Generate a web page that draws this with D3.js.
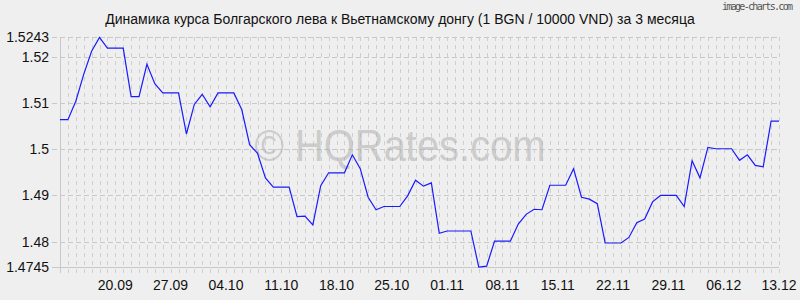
<!DOCTYPE html>
<html>
<head>
<meta charset="utf-8">
<script src="https://cdn.jsdelivr.net/npm/d3@7"></script>
<style>
  body { margin: 0; background: #efefef; }
  svg { display: block; font-family: "Liberation Sans", Arial, sans-serif; }
</style>
</head>
<body>
<div id="chart"></div>
<script>
// Daily rate, 1 BGN / 10000 VND, from 13.09 to 13.12
const startDay = "2025-09-13";
const rates = [
  1.5064, 1.5064, 1.5104, 1.5162, 1.5212, 1.5242, 1.5219, 1.5219, 1.5219, 1.5114,
  1.5114, 1.5184, 1.5142, 1.5122, 1.5122, 1.5122, 1.5033, 1.5097, 1.5119, 1.5092,
  1.5122, 1.5122, 1.5122, 1.5086, 1.5010, 1.4991, 1.4938, 1.4918, 1.4918, 1.4918,
  1.4854, 1.4855, 1.4836, 1.4921, 1.4949, 1.4949, 1.4949, 1.4988, 1.4958, 1.4896,
  1.4869, 1.4876, 1.4876, 1.4876, 1.4899, 1.4933, 1.4920, 1.4927, 1.4818, 1.4823,
  1.4823, 1.4823, 1.4823, 1.4745, 1.4747, 1.4801, 1.4801, 1.4801, 1.4838, 1.4859,
  1.4870, 1.4869, 1.4922, 1.4922, 1.4922, 1.4958, 1.4896, 1.4892, 1.4882, 1.4797,
  1.4797, 1.4797, 1.4809, 1.4841, 1.4849, 1.4886, 1.4900, 1.4900, 1.4900, 1.4876,
  1.4975, 1.4938, 1.5004, 1.5001, 1.5001, 1.5001, 1.4976, 1.4988, 1.4965, 1.4962,
  1.5061, 1.5061
];
const xTickLabels = ["20.09", "27.09", "04.10", "11.10", "18.10", "25.10", "01.11",
  "08.11", "15.11", "22.11", "29.11", "06.12", "13.12"];
const yTicks = [1.4745, 1.48, 1.49, 1.5, 1.51, 1.52, 1.5243];

const title = "Динамика курса Болгарского лева к Вьетнамскому донгу (1 BGN / 10000 VND) за 3 месяца";

const width = 800, height = 300;
const margin = { top: 37, right: 21, bottom: 33, left: 60 };

const parseDay = d3.timeParse("%Y-%m-%d");
const start = parseDay(startDay);
const data = rates.map((v, i) => ({ date: d3.timeDay.offset(start, i), value: v }));

// tick labels are dd.mm, year follows the data
const tickDates = xTickLabels.map(s => {
  const [dd, mm] = s.split(".");
  return new Date(start.getFullYear(), +mm - 1, +dd);
});

const svg = d3.select("#chart").append("svg")
    .attr("width", width)
    .attr("height", height);

svg.append("rect")
    .attr("width", width).attr("height", height)
    .attr("fill", "#efefef");

const x = d3.scaleTime()
    .domain(d3.extent(data, d => d.date))
    .range([margin.left, width - margin.right]);

const y = d3.scaleLinear()
    .domain([yTicks[0], yTicks[yTicks.length - 1]])
    .range([height - margin.bottom, margin.top]);

// vertical grid, one dashed line per day
svg.append("g")
  .selectAll("line")
  .data(data)
  .enter().append("line")
    .attr("x1", d => Math.round(x(d.date)) + 0.5)
    .attr("x2", d => Math.round(x(d.date)) + 0.5)
    .attr("y1", margin.top)
    .attr("y2", height - margin.bottom + 6)
    .attr("stroke", "#cfcfcf")
    .attr("stroke-dasharray", "4,4");

// horizontal grid at y ticks
svg.append("g")
  .selectAll("line")
  .data(yTicks)
  .enter().append("line")
    .attr("x1", margin.left - 8)
    .attr("x2", width - margin.right)
    .attr("y1", d => Math.round(y(d)) + 0.5)
    .attr("y2", d => Math.round(y(d)) + 0.5)
    .attr("stroke", "#c8c8c8")
    .attr("stroke-dasharray", d => (d === yTicks[0] ? null : "5,3"));

// left axis line
svg.append("line")
    .attr("x1", margin.left + 0.5).attr("x2", margin.left + 0.5)
    .attr("y1", margin.top).attr("y2", height - margin.bottom + 6)
    .attr("stroke", "#c8c8c8");

// watermark
svg.append("text")
    .attr("x", 400)
    .attr("y", 161)
    .attr("text-anchor", "middle")
    .attr("textLength", 291)
    .attr("lengthAdjust", "spacingAndGlyphs")
    .style("font-size", "45px")
    .style("fill", "#aaaaaa")
    .style("fill-opacity", 0.5)
    .text("© HQRates.com");

// y labels
svg.append("g")
  .selectAll("text")
  .data(yTicks)
  .enter().append("text")
    .attr("x", 49)
    .attr("y", d => y(d))
    .attr("dy", "0.36em")
    .attr("text-anchor", "end")
    .style("font-size", "14px")
    .style("fill", "#111")
    .text(d => d);

// x labels
svg.append("g")
  .selectAll("text")
  .data(tickDates)
  .enter().append("text")
    .attr("x", d => x(d))
    .attr("y", 290)
    .attr("text-anchor", "middle")
    .style("font-size", "14px")
    .style("fill", "#111")
    .text((d, i) => xTickLabels[i]);

// the rate line
const line = d3.line()
    .x(d => x(d.date))
    .y(d => y(d.value));

svg.append("path")
    .datum(data)
    .attr("fill", "none")
    .attr("stroke", "#1a1aff")
    .attr("stroke-width", 1.2)
    .attr("d", line);

// title
svg.append("text")
    .attr("x", 400)
    .attr("y", 24)
    .attr("text-anchor", "middle")
    .style("font-size", "14px")
    .style("fill", "#111")
    .text(title);

svg.append("text")
    .attr("x", 793)
    .attr("y", 10)
    .attr("text-anchor", "end")
    .attr("textLength", 71)
    .style("font-family", "'DejaVu Sans Mono', monospace")
    .style("font-size", "10px")
    .style("fill", "#555")
    .text("image-charts.com");
</script>
</body>
</html>
